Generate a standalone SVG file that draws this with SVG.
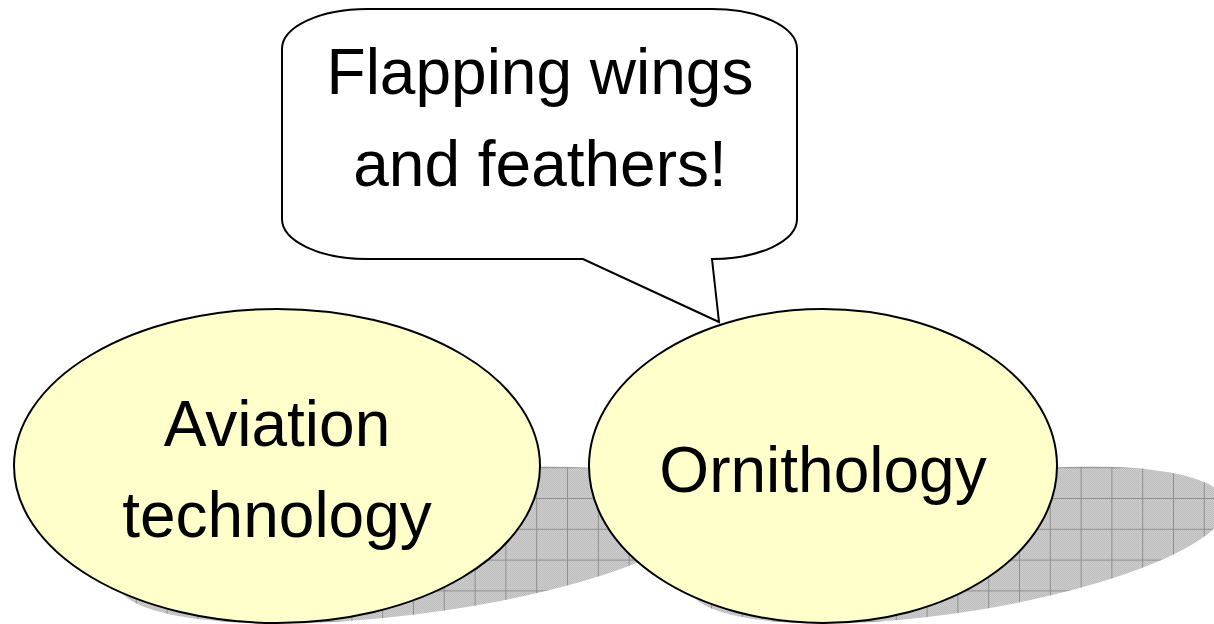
<svg xmlns="http://www.w3.org/2000/svg" width="1214" height="624" viewBox="0 0 1214 624">
  <style>
    .bubble { fill: #ffffcc; stroke: #000; stroke-width: 2; }
    .callout { fill: #fff; stroke: #000; stroke-width: 2; stroke-linejoin: miter; }
    .label { font-family: "Liberation Sans", Arial, sans-serif; font-size: 64px; fill: #000; text-anchor: middle; }
  </style>
  <defs>
    <!-- fine halftone texture of the cast shadows -->
    <pattern id="dither" patternUnits="userSpaceOnUse" width="2" height="2">
      <rect width="2" height="2" fill="#cdcdcd"/>
      <rect width="1" height="1" fill="#bdbdbd"/>
      <rect x="1" y="1" width="1" height="1" fill="#bdbdbd"/>
    </pattern>
    <!-- floor grid seen through the shadows -->
    <pattern id="gridL" patternUnits="userSpaceOnUse" x="413" y="498" width="30.8" height="30.8">
      <path d="M0.5 0V30.8M0 0.5H30.8" stroke="#8e8e8e" stroke-width="1" fill="none"/>
    </pattern>
    <pattern id="gridR" patternUnits="userSpaceOnUse" x="1019" y="498" width="30.8" height="30.8">
      <path d="M0.5 0V30.8M0 0.5H30.8" stroke="#8e8e8e" stroke-width="1" fill="none"/>
    </pattern>
    <!-- perspective shadows: ellipses flattened onto the floor and slanted right -->
    <clipPath id="shadowL">
      <ellipse cx="277" cy="466" rx="263" ry="157" transform="matrix(1,0,-0.85,0.5,530.4,312)"/>
    </clipPath>
    <clipPath id="shadowR">
      <ellipse cx="823" cy="466" rx="234" ry="157" transform="matrix(1,0,-0.85,0.5,530.4,312)"/>
    </clipPath>
  </defs>

  <g id="shadows">
    <g clip-path="url(#shadowL)">
      <rect x="0" y="440" width="1214" height="184" fill="url(#dither)"/>
      <rect x="0" y="440" width="1214" height="184" fill="url(#gridL)"/>
    </g>
    <g clip-path="url(#shadowR)">
      <rect x="0" y="440" width="1214" height="184" fill="url(#dither)"/>
      <rect x="0" y="440" width="1214" height="184" fill="url(#gridR)"/>
    </g>
  </g>

  <g id="aviation">
    <ellipse class="bubble" cx="277" cy="466" rx="263" ry="157"/>
    <text class="label" x="277" y="446">Aviation</text>
    <text class="label" x="277" y="537">technology</text>
  </g>

  <g id="ornithology">
    <ellipse class="bubble" cx="823" cy="466" rx="234" ry="157"/>
    <text class="label" x="823" y="492">Ornithology</text>
  </g>

  <g id="callout">
    <path class="callout" d="M367 9H712A85 40 0 0 1 797 49V219A85 40 0 0 1 712 259L719 322L583 259H367A85 40 0 0 1 282 219V49A85 40 0 0 1 367 9Z"/>
    <text class="label" x="540" y="94">Flapping wings</text>
    <text class="label" x="540" y="186">and feathers!</text>
  </g>
</svg>
